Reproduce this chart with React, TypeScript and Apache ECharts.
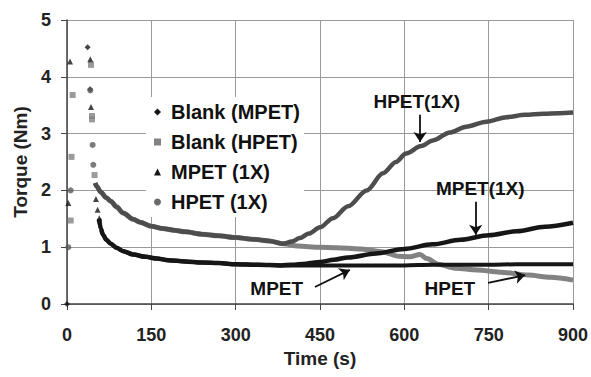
import React, { useEffect, useRef } from "react";
import * as echarts from "echarts";

const FONT = '"Liberation Sans", Arial, Helvetica, sans-serif';

const xTicks = { min: 0, max: 900, interval: 150 };
const yTicks = { min: 0, max: 5, interval: 1 };

// early transient readings (individual markers)
const blankMpetPoints: [number, number][] = [[0, 0], [36.7, 4.52], [41, 3.78]];
const blankHpetPoints: [number, number][] = [
  [10, 3.68], [8, 2.59], [6.5, 1.47], [42.7, 4.21], [44.5, 3.31], [44.5, 3.25], [49, 2.27],
];
const mpet1xPoints: [number, number][] = [
  [5.3, 4.27], [2.3, 1.78], [41.5, 4.31], [42.7, 3.47], [51.5, 1.85], [54.5, 1.66], [57.5, 1.51],
];
const hpet1xPoints: [number, number][] = [
  [6.5, 2.0], [2.3, 1.0], [41.5, 3.76], [45.6, 2.8], [46.8, 2.45],
];

// continuous traces
const blankMpetCurve: [number, number][] = [
  [57, 1.5], [60, 1.33], [64, 1.22], [70, 1.13], [78, 1.06], [88, 0.99], [100, 0.93], [118, 0.87],
  [140, 0.83], [160, 0.8], [180, 0.77], [210, 0.75], [240, 0.73], [270, 0.72], [300, 0.7],
  [340, 0.69], [380, 0.68], [420, 0.68], [460, 0.68], [500, 0.68], [550, 0.68], [600, 0.68],
  [650, 0.69], [700, 0.69], [750, 0.69], [800, 0.7], [850, 0.7], [900, 0.7],
];
const mpet1xCurve: [number, number][] = [
  [57, 1.5], [60, 1.33], [64, 1.22], [70, 1.13], [78, 1.06], [88, 0.99], [100, 0.93], [118, 0.87],
  [140, 0.83], [160, 0.8], [180, 0.77], [210, 0.75], [240, 0.73], [270, 0.72], [300, 0.7],
  [340, 0.69], [380, 0.68], [400, 0.69], [425, 0.71], [450, 0.74], [475, 0.78], [500, 0.82],
  [550, 0.89], [600, 0.97], [650, 1.05], [700, 1.13], [750, 1.21], [800, 1.28], [850, 1.36],
  [900, 1.43],
];
const blankHpetCurve: [number, number][] = [
  [50, 2.13], [53, 2.07], [60, 1.97], [70, 1.87], [78, 1.81], [88, 1.71], [100, 1.6], [118, 1.49],
  [130, 1.44], [150, 1.37], [170, 1.33], [190, 1.3], [210, 1.27], [240, 1.23], [270, 1.2],
  [300, 1.17], [330, 1.14], [360, 1.11], [385, 1.06], [410, 1.02], [450, 1.0], [480, 0.99],
  [520, 0.97], [560, 0.92], [590, 0.84], [610, 0.83], [628, 0.87], [640, 0.8], [660, 0.7],
  [690, 0.63], [730, 0.6], [770, 0.56], [820, 0.51], [860, 0.47], [900, 0.42],
];
const hpet1xCurve: [number, number][] = [
  [50, 2.13], [53, 2.07], [60, 1.97], [70, 1.87], [78, 1.81], [88, 1.71], [100, 1.6], [118, 1.49],
  [130, 1.44], [150, 1.37], [170, 1.33], [190, 1.3], [210, 1.27], [240, 1.23], [270, 1.2],
  [300, 1.17], [330, 1.14], [360, 1.11], [385, 1.06], [400, 1.1], [414, 1.16], [430, 1.24],
  [450, 1.35], [473, 1.51], [500, 1.72], [533, 2.0], [562, 2.3], [585, 2.5], [603, 2.65],
  [630, 2.78], [651, 2.88], [681, 3.02], [710, 3.12], [746, 3.21], [782, 3.29], [815, 3.33],
  [847, 3.35], [875, 3.36], [900, 3.37],
];

// annotation labels and arrows (data coordinates)
const annotationLabels: { name: string; coord: [number, number] }[] = [
  { name: "HPET(1X)", coord: [622, 3.56] },
  { name: "MPET(1X)", coord: [735, 2.04] },
  { name: "MPET", coord: [373, 0.28] },
  { name: "HPET", coord: [681, 0.28] },
];
const annotationArrows: [[number, number], [number, number]][] = [
  [[628, 3.33], [628, 2.85]],
  [[727, 1.8], [727, 1.22]],
  [[441, 0.3], [503, 0.6]],
  [[749, 0.37], [815, 0.51]],
];

const BLACK = "#161616";
const GRAY = "#828282";
const DARKGRAY = "#4d4d4d";

export default function App() {
  const ref = useRef<HTMLDivElement>(null);
  useEffect(() => {
    if (!ref.current) return;
    const chart = echarts.init(ref.current, undefined, { renderer: "svg" });
    const lineSeries = (name: string, data: [number, number][], color: string, width: number) => ({
      name,
      type: "line",
      data,
      showSymbol: false,
      symbol: "none",
      smooth: 0.3,
      smoothMonotone: "x",
      lineStyle: { color, width },
      itemStyle: { color },
      z: 2,
    });
    const scatterSeries = (name: string, data: [number, number][], color: string, symbol: string) => ({
      name,
      type: "scatter",
      data,
      symbol,
      symbolSize: 6,
      itemStyle: { color },
      z: 3,
    });
    chart.setOption({
      animation: false,
      backgroundColor: "#fff",
      textStyle: { fontFamily: FONT },
      grid: { left: 67, right: 18, top: 20, bottom: 73, containLabel: false, outerBoundsMode: "none" },
      xAxis: {
        type: "value",
        ...xTicks,
        name: "Time (s)",
        nameLocation: "middle",
        nameGap: 38,
        nameTextStyle: { fontFamily: FONT, fontSize: 19, fontWeight: "bold", color: "#222" },
        axisLine: { show: true, lineStyle: { color: "#444", width: 1.5 } },
        axisTick: { show: true, length: 6, lineStyle: { color: "#444" } },
        axisLabel: { fontFamily: FONT, fontSize: 18, fontWeight: "bold", color: "#222", margin: 22 },
        splitLine: { show: true, lineStyle: { color: "#9a9a9a", width: 1 } },
      },
      yAxis: {
        type: "value",
        ...yTicks,
        name: "Torque (Nm)",
        nameLocation: "middle",
        nameRotate: 90,
        nameGap: 35,
        nameTextStyle: { fontFamily: FONT, fontSize: 19, fontWeight: "bold", color: "#222" },
        axisLine: { show: true, lineStyle: { color: "#444", width: 1.5 } },
        axisTick: { show: true, length: 6, lineStyle: { color: "#444" } },
        axisLabel: { fontFamily: FONT, fontSize: 18, fontWeight: "bold", color: "#222", margin: 16 },
        splitLine: { show: true, lineStyle: { color: "#9a9a9a", width: 1 } },
      },
      legend: {
        orient: "vertical",
        left: 146,
        top: 97,
        padding: [5, 4, 5, 8],
        backgroundColor: "#fff",
        itemWidth: 7,
        itemHeight: 7,
        itemGap: 10,
        z: 10,
        textStyle: { fontFamily: FONT, fontSize: 20, fontWeight: "bold", color: "#111", lineHeight: 20, padding: [0, 0, 0, 5] },
        data: [
          { name: "Blank (MPET)", icon: "diamond", itemStyle: { color: BLACK } },
          { name: "Blank (HPET)", icon: "rect", itemStyle: { color: GRAY } },
          { name: "MPET (1X)", icon: "triangle", itemStyle: { color: BLACK } },
          { name: "HPET (1X)", icon: "circle", itemStyle: { color: "#6a6a6a" } },
        ],
      },
      series: [
        lineSeries("Blank (HPET)", blankHpetCurve, GRAY, 5),
        lineSeries("HPET (1X)", hpet1xCurve, DARKGRAY, 4.5),
        lineSeries("Blank (MPET)", blankMpetCurve, BLACK, 4),
        lineSeries("MPET (1X)", mpet1xCurve, BLACK, 4.5),
        scatterSeries("Blank (MPET)", blankMpetPoints, BLACK, "diamond"),
        scatterSeries("Blank (HPET)", blankHpetPoints, GRAY, "rect"),
        scatterSeries("MPET (1X)", mpet1xPoints, BLACK, "triangle"),
        scatterSeries("HPET (1X)", hpet1xPoints, "#5a5a5a", "circle"),
        {
          type: "scatter",
          name: "annotations",
          data: [],
          silent: true,
          z: 5,
          markLine: {
            silent: true,
            symbol: ["none", "arrow"],
            symbolSize: 10,
            lineStyle: { color: "#111", width: 1.8, type: "solid" },
            label: { show: false },
            data: annotationArrows.map(([a, b]) => [{ coord: a }, { coord: b }]),
          },
          markPoint: {
            silent: true,
            symbol: "circle",
            symbolSize: 1,
            itemStyle: { color: "rgba(0,0,0,0)" },
            label: {
              show: true,
              position: "inside",
              formatter: "{b}",
              fontFamily: FONT,
              fontSize: 19,
              fontWeight: "bold",
              color: "#111",
            },
            data: annotationLabels.map((l) => ({ name: l.name, coord: l.coord })),
          },
        },
      ],
    });
    return () => chart.dispose();
  }, []);
  return <div ref={ref} style={{ position: "fixed", left: 0, top: 0, width: 591, height: 377 }} />;
}
